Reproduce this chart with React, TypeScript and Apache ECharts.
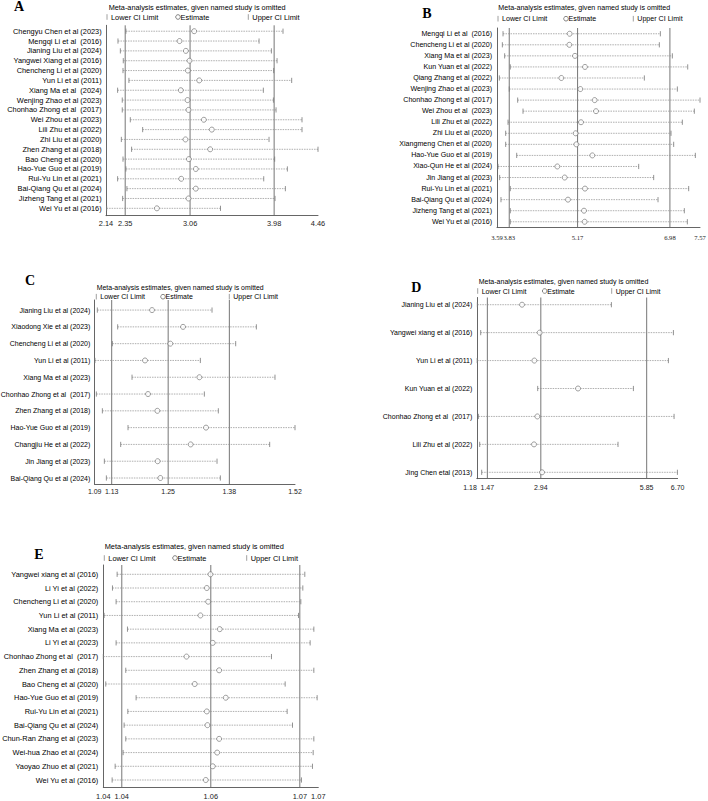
import React, { useEffect, useRef } from "react";
import * as echarts from "echarts";

const FONT = "'Liberation Sans', Arial, sans-serif";
const SERIF = "'Liberation Serif', 'Times New Roman', serif";

// ---------- Panel A ----------
const namesA = ["Chengyu Chen et al (2023)", "Mengqi Li et al  (2016)", "Jianing Liu et al (2024)", "Yangwei Xiang et al (2016)", "Chencheng Li et al (2020)", "Yun Li et al (2011)", "Xiang Ma et al  (2024)", "Wenjing Zhao et al (2023)", "Chonhao Zhong et al  (2017)", "Wei Zhou et al (2023)", "Lili Zhu et al (2022)", "Zhi Liu et al (2020)", "Zhen Zhang et al (2018)", "Bao Cheng et al (2020)", "Hao-Yue Guo et al (2019)", "Rui-Yu Lin et al (2021)", "Bai-Qiang Qu et al (2024)", "Jizheng Tang et al (2021)", "Wei Yu et al (2016)"];
const lowerA = [2.358, 2.271, 2.297, 2.329, 2.326, 2.391, 2.267, 2.318, 2.318, 2.406, 2.541, 2.308, 2.42, 2.326, 2.358, 2.267, 2.369, 2.322, 2.147];
const estA = [3.105, 2.945, 3.014, 3.054, 3.036, 3.16, 2.959, 3.032, 3.043, 3.211, 3.298, 3.01, 3.28, 3.047, 3.123, 2.963, 3.123, 3.043, 2.697];
const upperA = [4.077, 3.815, 3.95, 4.012, 3.975, 4.172, 3.862, 3.972, 4.001, 4.285, 4.285, 3.924, 4.46, 3.986, 4.125, 3.866, 4.103, 3.99, 3.393];
const ticksA = [2.14, 2.35, 3.06, 3.98, 4.46];

// ---------- Panel B ----------
const namesB = ["Mengqi Li et al  (2016)", "Chencheng Li et al (2020)", "Xiang Ma et al (2023)", "Kun Yuan et al (2022)", "Qiang Zhang et al (2022)", "Wenjing Zhao et al (2023)", "Chonhao Zhong et al (2017)", "Wei Zhou et al  (2023)", "Lili Zhu et al (2022)", "Zhi Liu et al (2020)", "Xiangmeng Chen et al (2020)", "Hao-Yue Guo et al (2019)", "Xiao-Qun He et al (2024)", "Jin Jiang et al (2023)", "Rui-Yu Lin et al (2021)", "Bai-Qiang Qu et al (2024)", "Jizheng Tang et al (2021)", "Wei Yu et al (2016)"];
const lowerB = [3.708, 3.695, 3.74, 3.851, 3.636, 3.83, 3.995, 4.1, 3.806, 3.76, 3.76, 3.976, 3.61, 3.642, 3.851, 3.668, 3.851, 3.851];
const estB = [5.015, 5.008, 5.119, 5.315, 4.851, 5.224, 5.505, 5.531, 5.237, 5.132, 5.146, 5.459, 4.773, 4.917, 5.315, 4.982, 5.296, 5.309];
const upperB = [6.793, 6.773, 7.028, 7.329, 6.479, 7.126, 7.57, 7.459, 7.224, 7.002, 7.054, 7.479, 6.368, 6.662, 7.348, 6.747, 7.263, 7.322];
const ticksB = [3.59, 3.83, 5.17, 6.98, 7.57];

// ---------- Panel C ----------
const namesC = ["Jianing Liu et al (2024)", "Xiaodong Xie et al (2023)", "Chencheng Li et al (2020)", "Yun Li et al (2011)", "Xiang Ma et al (2023)", "Chonhao Zhong et al  (2017)", "Zhen Zhang et al (2018)", "Hao-Yue Guo et al (2019)", "Changjiu He et al (2022)", "Jin Jiang et al (2023)", "Bai-Qiang Qu et al (2024)"];
const lowerC = [1.0995, 1.1427, 1.1314, 1.0945, 1.1732, 1.0974, 1.1102, 1.1647, 1.1491, 1.1144, 1.1187];
const estC = [1.2157, 1.2816, 1.2546, 1.2008, 1.3163, 1.2072, 1.227, 1.3304, 1.2978, 1.2277, 1.2334];
const upperC = [1.3432, 1.4374, 1.3935, 1.3184, 1.477, 1.3269, 1.3566, 1.5195, 1.4657, 1.3538, 1.3609];
const ticksC = [1.0939, 1.13, 1.25, 1.38, 1.5195];

// ---------- Panel D ----------
const namesD = ["Jianing Liu et al (2024)", "Yangwei xiang et al (2016)", "Yun Li et al (2011)", "Kun Yuan et al (2022)", "Chonhao Zhong et al  (2017)", "Lili Zhu et al (2022)", "Jing Chen etal (2013)"];
const lowerD = [1.195, 1.287, 1.19, 2.854, 1.223, 1.259, 1.314];
const estD = [2.423, 2.909, 2.762, 3.963, 2.845, 2.753, 2.973];
const upperD = [4.88, 6.585, 6.447, 5.485, 6.603, 5.062, 6.695];
const ticksD = [1.18, 1.47, 2.94, 5.85, 6.7];

// ---------- Panel E ----------
const namesE = ["Yangwei xiang et al (2016)", "Li Yi et al (2022)", "Chencheng Li et al (2020)", "Yun Li et al (2011)", "Xiang Ma et al (2023)", "Li Yi et al (2023)", "Chonhao Zhong et al  (2017)", "Zhen Zhang et al (2018)", "Bao Cheng et al (2020)", "Hao-Yue Guo et al (2019)", "Rui-Yu Lin et al (2021)", "Bai-Qiang Qu et al (2024)", "Chun-Ran Zhang et al (2023)", "Wei-hua Zhao et al (2024)", "Yaoyao Zhuo et al (2021)", "Wei Yu et al (2016)"];
const lowerE = [1.04232, 1.04164, 1.04217, 1.04042, 1.04383, 1.04217, 1.0403, 1.04358, 1.04066, 1.04509, 1.04388, 1.04334, 1.04358, 1.04319, 1.04203, 1.04159];
const estE = [1.05595, 1.05542, 1.05561, 1.05449, 1.05731, 1.05629, 1.05245, 1.05722, 1.05366, 1.05819, 1.05542, 1.05551, 1.05722, 1.05693, 1.05629, 1.05527];
const upperE = [1.06973, 1.06944, 1.06915, 1.06881, 1.07105, 1.07051, 1.06486, 1.07105, 1.06686, 1.07153, 1.06715, 1.06793, 1.07105, 1.07095, 1.07085, 1.06924];
const ticksE = [1.0403, 1.043, 1.056, 1.069, 1.0717];

const TITLE = "Meta-analysis estimates, given named study is omitted";

const panels = [
  { letter: "A", names: namesA, lower: lowerA, est: estA, upper: upperA, ticks: ticksA,
    grid: { left: 106, top: 25.3, width: 212, height: 190.4 }, pad: [0.6, 0.75], fs: 7.4,
    tickFont: FONT, tickFs: 7.4, tickMargin: 4, labelMargin: 4.3, alignMin: "center",
    title: [108.7, 7.3, 7.3], legend: [107, 178, 248.3, 17], letterPos: [14, 6] },
  { letter: "B", names: namesB, lower: lowerB, est: estB, upper: upperB, ticks: ticksB,
    grid: { left: 497, top: 28, width: 203, height: 199.3 }, pad: [0.52, 0.5], fs: 7.1,
    tickFont: SERIF, tickFs: 6.6, tickMargin: 6.5, labelMargin: 5, alignMin: "center",
    title: [498.3, 8, 7.1], legend: [498, 566, 633.3, 18.7], letterPos: [422.3, 13.3] },
  { letter: "C", names: namesC, lower: lowerC, est: estC, upper: upperC, ticks: ticksC,
    grid: { left: 94.7, top: 300, width: 200.3, height: 184.3 }, pad: [0.6, 0.375], fs: 7,
    tickFont: FONT, tickFs: 7, tickMargin: 4, labelMargin: 4.4, alignMin: "center",
    title: [96.7, 287.7, 6.9], legend: [96.3, 163, 229.3, 296.7], letterPos: [25, 280] },
  { letter: "D", names: namesD, lower: lowerD, est: estD, upper: upperD, ticks: ticksD,
    grid: { left: 476.8, top: 297.5, width: 200.8, height: 181.2 }, pad: [0.258, 0.229], fs: 7,
    tickFont: FONT, tickFs: 7, tickMargin: 5, labelMargin: 4.5, alignMin: "right",
    title: [478.7, 281.7, 7.0], legend: [477.7, 544.7, 611.7, 291], letterPos: [411.3, 287] },
  { letter: "E", names: namesE, lower: lowerE, est: estE, upper: upperE, ticks: ticksE,
    grid: { left: 103.3, top: 565, width: 215, height: 222 }, pad: [0.678, 0.51], fs: 7.4,
    tickFont: FONT, tickFs: 7.4, tickMargin: 6, labelMargin: 5, alignMin: "center",
    title: [104.7, 546.7, 7.4], legend: [104.3, 175, 246.7, 558], letterPos: [34.3, 554] },
];

function buildOption() {
  const grid: any[] = [];
  const xAxis: any[] = [];
  const yAxis: any[] = [];
  const series: any[] = [];
  const graphic: any[] = [];

  panels.forEach((p, i) => {
    const n = p.names.length;
    const yMin = -p.pad[0];
    const yMax = n - 1 + p.pad[1];
    grid.push({ ...p.grid, containLabel: false, outerBoundsMode: "none" });
    xAxis.push({
      type: "value", gridIndex: i, min: p.ticks[0], max: p.ticks[p.ticks.length - 1],
      axisLine: { show: true, onZero: false, lineStyle: { color: "#555", width: 0.9 } },
      axisTick: { show: false }, splitLine: { show: false },
      axisLabel: {
        customValues: p.ticks, formatter: (v: number) => Number(v).toFixed(2),
        fontFamily: p.tickFont, fontSize: p.tickFs, color: "#222", margin: p.tickMargin,
        showMinLabel: true, showMaxLabel: true, hideOverlap: false,
        alignMinLabel: p.alignMin,
      },
    });
    yAxis.push({
      type: "value", gridIndex: i, inverse: true, min: yMin, max: yMax,
      axisLine: { show: true, onZero: false, lineStyle: { color: "#555", width: 0.9 } },
      axisTick: { show: false }, splitLine: { show: false },
      axisLabel: {
        customValues: p.names.map((_, k) => k),
        formatter: (v: number) => p.names[Math.round(v)] ?? "",
        fontFamily: FONT, fontSize: p.fs, color: "#000", margin: p.labelMargin,
      },
    });
    // reference lines (overall lower CI, estimate, upper CI)
    series.push({
      type: "custom", xAxisIndex: i, yAxisIndex: i, z: 1, silent: true,
      encode: { x: 0 },
      data: p.ticks.slice(1, 4).map((v) => [v]),
      renderItem: (params: any, api: any) => {
        const v = api.value(0);
        const a = api.coord([v, yMin]);
        const b = api.coord([v, yMax]);
        return {
          type: "line", shape: { x1: a[0], y1: a[1], x2: b[0], y2: b[1] },
          style: { stroke: "#666", lineWidth: 0.9 },
        };
      },
    });
    // CI dotted lines with end ticks
    series.push({
      type: "custom", xAxisIndex: i, yAxisIndex: i, z: 2, silent: true,
      encode: { x: [0, 1], y: 2 },
      data: p.names.map((_, k) => [p.lower[k], p.upper[k], k]),
      renderItem: (params: any, api: any) => {
        const lo = api.value(0), hi = api.value(1), idx = api.value(2);
        const p1 = api.coord([lo, idx]);
        const p2 = api.coord([hi, idx]);
        const h = 2.6;
        return {
          type: "group",
          children: [
            { type: "line", shape: { x1: p1[0], y1: p1[1], x2: p2[0], y2: p2[1] },
              style: { stroke: "#8c8c8c", lineWidth: 0.7, lineDash: [1.5, 1] } },
            { type: "line", shape: { x1: p1[0], y1: p1[1] - h, x2: p1[0], y2: p1[1] + h },
              style: { stroke: "#777", lineWidth: 0.8 } },
            { type: "line", shape: { x1: p2[0], y1: p2[1] - h, x2: p2[0], y2: p2[1] + h },
              style: { stroke: "#777", lineWidth: 0.8 } },
          ],
        };
      },
    });
    // estimates
    series.push({
      type: "scatter", xAxisIndex: i, yAxisIndex: i, z: 3, silent: true,
      symbol: "circle", symbolSize: 5,
      itemStyle: { color: "#fff", borderColor: "#666", borderWidth: 0.8 },
      data: p.est.map((v, k) => [v, k]),
    });

    // letter
    graphic.push({
      type: "text", x: p.letterPos[0], y: p.letterPos[1],
      style: { text: p.letter, fontFamily: SERIF, fontWeight: "bold", fontSize: 14, fill: "#000", align: "left", verticalAlign: "middle" },
    });
    // title
    graphic.push({
      type: "text", x: p.title[0], y: p.title[1],
      style: { text: TITLE, fontFamily: FONT, fontSize: p.title[2], fill: "#000", align: "left", verticalAlign: "middle" },
    });
    // legend
    const [lx, ex, ux, ly] = p.legend;
    graphic.push({ type: "line", shape: { x1: lx, y1: ly - 2.8, x2: lx, y2: ly + 2.8 }, style: { stroke: "#888", lineWidth: 0.8 } });
    graphic.push({ type: "text", x: lx + 4, y: ly, style: { text: "Lower CI Limit", fontFamily: FONT, fontSize: p.fs, fill: "#000", align: "left", verticalAlign: "middle" } });
    graphic.push({ type: "circle", shape: { cx: ex, cy: ly, r: 2.3 }, style: { fill: "#fff", stroke: "#666", lineWidth: 0.8 } });
    graphic.push({ type: "text", x: ex + 2.6, y: ly, style: { text: "Estimate", fontFamily: FONT, fontSize: p.fs, fill: "#000", align: "left", verticalAlign: "middle" } });
    graphic.push({ type: "line", shape: { x1: ux, y1: ly - 2.8, x2: ux, y2: ly + 2.8 }, style: { stroke: "#888", lineWidth: 0.8 } });
    graphic.push({ type: "text", x: ux + 4, y: ly, style: { text: "Upper CI Limit", fontFamily: FONT, fontSize: p.fs, fill: "#000", align: "left", verticalAlign: "middle" } });
  });

  return {
    animation: false,
    backgroundColor: "#fff",
    grid, xAxis, yAxis, series, graphic,
  };
}

export default function App() {
  const ref = useRef<HTMLDivElement>(null);
  useEffect(() => {
    document.body.style.margin = "0";
    if (!ref.current) return;
    const chart = echarts.init(ref.current, null, { renderer: "svg" });
    chart.setOption(buildOption() as any);
    return () => chart.dispose();
  }, []);
  return <div ref={ref} style={{ width: 708, height: 801 }} />;
}
